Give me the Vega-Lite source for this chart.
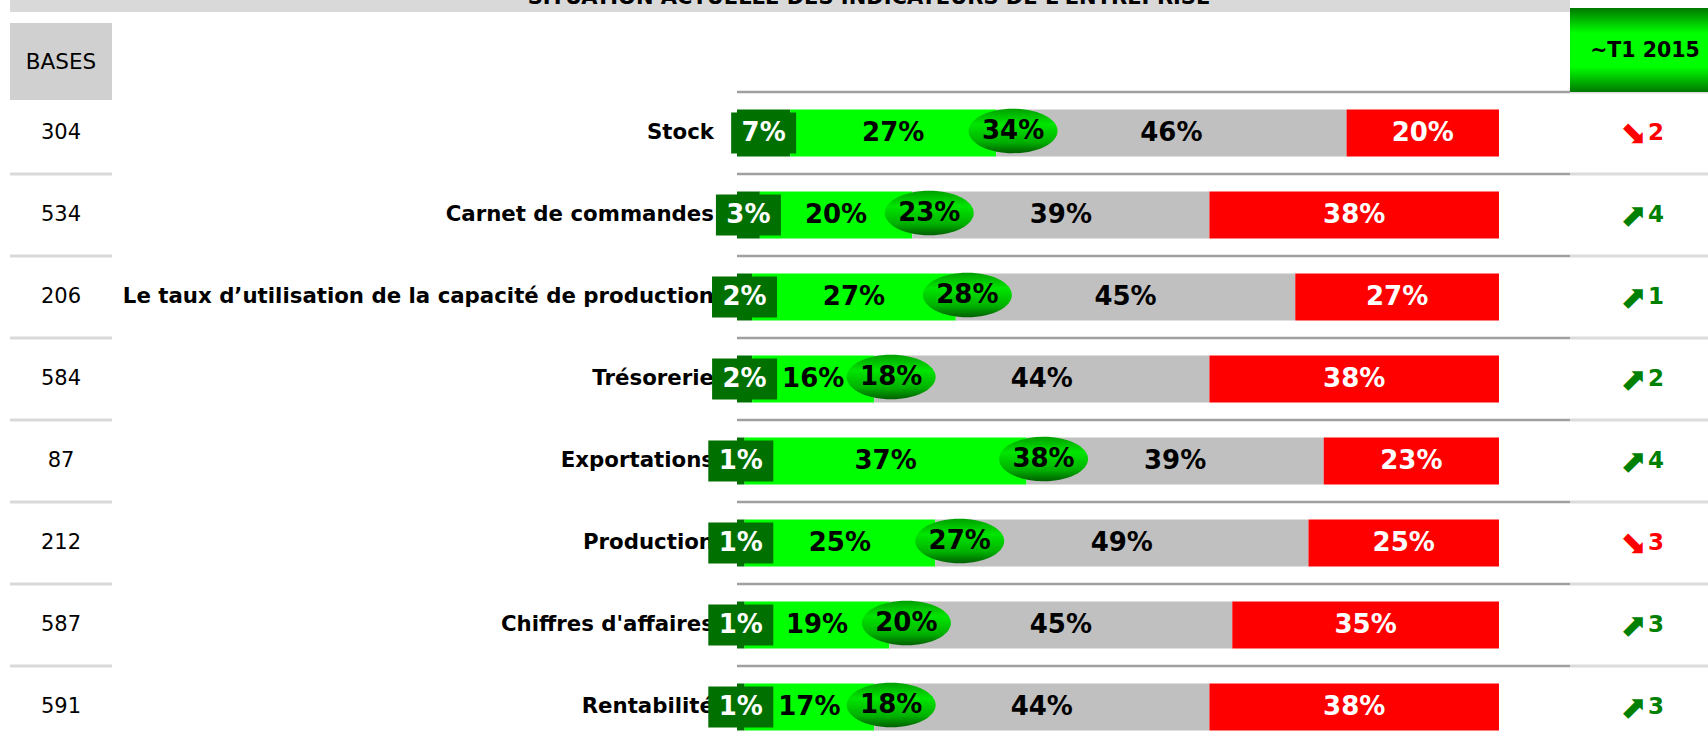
{
  "$schema": "https://vega.github.io/schema/vega-lite/v6.json",
  "padding": {"left": 8, "top": 0, "right": 0, "bottom": 0},
  "bounds": "flush",
  "spacing": 0,
  "config": {"view": {"stroke": null}, "font": "DejaVu Sans", "text": {"font": "DejaVu Sans"}},
  "datasets": {
    "entete": [{"titre": "SITUATION ACTUELLE DES INDICATEURS DE L'ENTREPRISE", "bases": "BASES", "periode": "~T1 2015"}],
    "lignes": [
      {"indicateur": "Stock", "base": 304, "pos": 0.34, "evol": 2, "sens": "baisse"},
      {"indicateur": "Carnet de commandes", "base": 534, "pos": 0.23, "evol": 4, "sens": "hausse"},
      {"indicateur": "Le taux d’utilisation de la capacité de production", "base": 206, "pos": 0.28, "evol": 1, "sens": "hausse"},
      {"indicateur": "Trésorerie", "base": 584, "pos": 0.18, "evol": 2, "sens": "hausse"},
      {"indicateur": "Exportations", "base": 87, "pos": 0.38, "evol": 4, "sens": "hausse"},
      {"indicateur": "Production", "base": 212, "pos": 0.27, "evol": 3, "sens": "baisse"},
      {"indicateur": "Chiffres d'affaires", "base": 587, "pos": 0.20, "evol": 3, "sens": "hausse"},
      {"indicateur": "Rentabilité", "base": 591, "pos": 0.18, "evol": 3, "sens": "hausse"}
    ],
    "segments": [
      {"indicateur": "Stock", "niveau": "Très bon", "k": 1, "part": 0.07},
      {"indicateur": "Stock", "niveau": "Bon", "k": 2, "part": 0.27},
      {"indicateur": "Stock", "niveau": "Moyen", "k": 3, "part": 0.46},
      {"indicateur": "Stock", "niveau": "Mauvais", "k": 4, "part": 0.20},
      {"indicateur": "Carnet de commandes", "niveau": "Très bon", "k": 1, "part": 0.03},
      {"indicateur": "Carnet de commandes", "niveau": "Bon", "k": 2, "part": 0.20},
      {"indicateur": "Carnet de commandes", "niveau": "Moyen", "k": 3, "part": 0.39},
      {"indicateur": "Carnet de commandes", "niveau": "Mauvais", "k": 4, "part": 0.38},
      {"indicateur": "Le taux d’utilisation de la capacité de production", "niveau": "Très bon", "k": 1, "part": 0.02},
      {"indicateur": "Le taux d’utilisation de la capacité de production", "niveau": "Bon", "k": 2, "part": 0.27},
      {"indicateur": "Le taux d’utilisation de la capacité de production", "niveau": "Moyen", "k": 3, "part": 0.45},
      {"indicateur": "Le taux d’utilisation de la capacité de production", "niveau": "Mauvais", "k": 4, "part": 0.27},
      {"indicateur": "Trésorerie", "niveau": "Très bon", "k": 1, "part": 0.02},
      {"indicateur": "Trésorerie", "niveau": "Bon", "k": 2, "part": 0.16},
      {"indicateur": "Trésorerie", "niveau": "Moyen", "k": 3, "part": 0.44},
      {"indicateur": "Trésorerie", "niveau": "Mauvais", "k": 4, "part": 0.38},
      {"indicateur": "Exportations", "niveau": "Très bon", "k": 1, "part": 0.01},
      {"indicateur": "Exportations", "niveau": "Bon", "k": 2, "part": 0.37},
      {"indicateur": "Exportations", "niveau": "Moyen", "k": 3, "part": 0.39},
      {"indicateur": "Exportations", "niveau": "Mauvais", "k": 4, "part": 0.23},
      {"indicateur": "Production", "niveau": "Très bon", "k": 1, "part": 0.01},
      {"indicateur": "Production", "niveau": "Bon", "k": 2, "part": 0.25},
      {"indicateur": "Production", "niveau": "Moyen", "k": 3, "part": 0.49},
      {"indicateur": "Production", "niveau": "Mauvais", "k": 4, "part": 0.25},
      {"indicateur": "Chiffres d'affaires", "niveau": "Très bon", "k": 1, "part": 0.01},
      {"indicateur": "Chiffres d'affaires", "niveau": "Bon", "k": 2, "part": 0.19},
      {"indicateur": "Chiffres d'affaires", "niveau": "Moyen", "k": 3, "part": 0.45},
      {"indicateur": "Chiffres d'affaires", "niveau": "Mauvais", "k": 4, "part": 0.35},
      {"indicateur": "Rentabilité", "niveau": "Très bon", "k": 1, "part": 0.01},
      {"indicateur": "Rentabilité", "niveau": "Bon", "k": 2, "part": 0.17},
      {"indicateur": "Rentabilité", "niveau": "Moyen", "k": 3, "part": 0.44},
      {"indicateur": "Rentabilité", "niveau": "Mauvais", "k": 4, "part": 0.38}
    ]
  },
  "hconcat": [
    {
      "width": 102,
      "height": 743,
      "layer": [
        {
          "data": {"name": "lignes"},
          "mark": {"type": "rule", "color": "#d9d9d9", "strokeWidth": 3},
          "encoding": {
            "y": {"field": "indicateur", "type": "nominal", "bandPosition": 0, "axis": null,
              "scale": {"domain": ["ENTETE", "Stock", "Carnet de commandes", "Le taux d’utilisation de la capacité de production", "Trésorerie", "Exportations", "Production", "Chiffres d'affaires", "Rentabilité"], "range": [10, 748], "paddingInner": 0, "paddingOuter": 0}}
          }
        },
        {
          "data": {"name": "entete"},
          "mark": {"type": "bar", "color": "#d9d9d9", "height": 12, "yOffset": -45},
          "encoding": {"y": {"datum": "ENTETE", "type": "nominal", "axis": null}}
        },
        {
          "data": {"name": "entete"},
          "mark": {"type": "bar", "color": "#d0d0d0", "height": 77, "yOffset": 10.5},
          "encoding": {"y": {"datum": "ENTETE", "type": "nominal", "axis": null}}
        },
        {
          "data": {"name": "entete"},
          "mark": {"type": "text", "fontSize": 21.5, "dy": 12, "color": "#000000"},
          "encoding": {"y": {"datum": "ENTETE", "type": "nominal", "axis": null}, "text": {"field": "bases"}}
        },
        {
          "data": {"name": "lignes"},
          "mark": {"type": "text", "fontSize": 21, "color": "#000000"},
          "encoding": {"y": {"field": "indicateur", "type": "nominal", "axis": null}, "text": {"field": "base"}}
        }
      ]
    },
    {
      "width": 1458,
      "height": 743,
      "layer": [
        {
          "data": {"name": "lignes"},
          "mark": {"type": "rule", "color": "#a0a0a0", "strokeWidth": 2.5},
          "encoding": {
            "x": {"datum": 0, "type": "quantitative", "axis": null, "scale": {"domain": [-0.8202, 1.0932], "nice": false, "zero": false}},
            "x2": {"datum": 1.0932},
            "y": {"field": "indicateur", "type": "nominal", "bandPosition": 0, "axis": null,
              "scale": {"domain": ["ENTETE", "Stock", "Carnet de commandes", "Le taux d’utilisation de la capacité de production", "Trésorerie", "Exportations", "Production", "Chiffres d'affaires", "Rentabilité"], "range": [10, 748], "paddingInner": 0, "paddingOuter": 0}}
          }
        },
        {
          "data": {"name": "entete"},
          "mark": {"type": "bar", "color": "#d9d9d9", "height": 12, "yOffset": -45},
          "encoding": {"y": {"datum": "ENTETE", "type": "nominal", "axis": null}}
        },
        {
          "data": {"name": "entete"},
          "mark": {"type": "text", "fontSize": 21, "fontWeight": "bold", "dx": 28, "dy": -6, "baseline": "alphabetic", "clip": true, "color": "#000000"},
          "encoding": {"y": {"datum": "ENTETE", "type": "nominal", "bandPosition": 0, "axis": null}, "text": {"field": "titre"}}
        },
        {
          "data": {"name": "lignes"},
          "mark": {"type": "text", "fontSize": 21.3, "fontWeight": "bold", "align": "right", "dx": -23, "color": "#000000"},
          "encoding": {
            "x": {"datum": 0, "type": "quantitative", "axis": null},
            "y": {"field": "indicateur", "type": "nominal", "axis": null},
            "text": {"field": "indicateur"}
          }
        },
        {
          "data": {"name": "segments"},
          "mark": {"type": "bar", "height": {"band": 0.573}},
          "encoding": {
            "x": {"field": "part", "type": "quantitative", "stack": "normalize", "axis": null},
            "y": {"field": "indicateur", "type": "nominal", "axis": null},
            "color": {"field": "niveau", "type": "nominal", "legend": null,
              "scale": {"domain": ["Très bon", "Bon", "Moyen", "Mauvais"], "range": ["#007000", "#00ff00", "#c0c0c0", "#ff0000"]}},
            "order": {"field": "k", "type": "quantitative"}
          }
        },
        {
          "data": {"name": "segments"},
          "mark": {"type": "point", "shape": "M-1,-0.63H1V0.63H-1Z", "size": 4225, "filled": true, "color": "#007000", "strokeWidth": 0},
          "encoding": {
            "x": {"field": "part", "type": "quantitative", "stack": "normalize", "bandPosition": 0.5, "axis": null},
            "y": {"field": "indicateur", "type": "nominal", "axis": null},
            "detail": {"field": "niveau"},
            "order": {"field": "k", "type": "quantitative"},
            "opacity": {"condition": {"test": "datum.k === 1", "value": 1}, "value": 0}
          }
        },
        {
          "data": {"name": "segments"},
          "mark": {"type": "text", "fontSize": 26, "fontWeight": "bold"},
          "encoding": {
            "x": {"field": "part", "type": "quantitative", "stack": "normalize", "bandPosition": 0.5, "axis": null},
            "y": {"field": "indicateur", "type": "nominal", "axis": null},
            "detail": {"field": "niveau"},
            "order": {"field": "k", "type": "quantitative"},
            "text": {"field": "part", "type": "quantitative", "format": ".0%"},
            "color": {"condition": {"test": "datum.k === 1 || datum.k === 4", "value": "#ffffff"}, "value": "#000000"}
          }
        },
        {
          "data": {"name": "lignes"},
          "mark": {"type": "point", "shape": "M-1,0A1,0.5,0,1,1,1,0A1,0.5,0,1,1,-1,0Z", "size": 7921, "filled": true, "strokeWidth": 0, "opacity": 1, "xOffset": 17, "yOffset": -2,
            "color": {"gradient": "linear", "x1": 0, "y1": 0, "x2": 0, "y2": 1,
              "stops": [{"offset": 0, "color": "#00a000"}, {"offset": 0.35, "color": "#00e600"}, {"offset": 0.75, "color": "#00b000"}, {"offset": 1, "color": "#006000"}]}},
          "encoding": {
            "x": {"field": "pos", "type": "quantitative", "axis": null},
            "y": {"field": "indicateur", "type": "nominal", "axis": null}
          }
        },
        {
          "data": {"name": "lignes"},
          "mark": {"type": "text", "fontSize": 26, "fontWeight": "bold", "dx": 17, "dy": -2, "color": "#000000"},
          "encoding": {
            "x": {"field": "pos", "type": "quantitative", "axis": null},
            "y": {"field": "indicateur", "type": "nominal", "axis": null},
            "text": {"field": "pos", "type": "quantitative", "format": ".0%"}
          }
        }
      ]
    },
    {
      "width": 140,
      "height": 743,
      "layer": [
        {
          "data": {"name": "lignes"},
          "mark": {"type": "rule", "color": "#dcdcdc", "strokeWidth": 3},
          "encoding": {
            "y": {"field": "indicateur", "type": "nominal", "bandPosition": 0, "axis": null,
              "scale": {"domain": ["ENTETE", "Stock", "Carnet de commandes", "Le taux d’utilisation de la capacité de production", "Trésorerie", "Exportations", "Production", "Chiffres d'affaires", "Rentabilité"], "range": [10, 748], "paddingInner": 0, "paddingOuter": 0}}
          }
        },
        {
          "data": {"name": "entete"},
          "mark": {"type": "bar", "height": 84, "yOffset": -1,
            "color": {"gradient": "linear", "x1": 0, "y1": 0, "x2": 0, "y2": 1,
              "stops": [{"offset": 0, "color": "#007800"}, {"offset": 0.3, "color": "#00ff00"}, {"offset": 0.7, "color": "#00ff00"}, {"offset": 1, "color": "#007800"}]}},
          "encoding": {"y": {"datum": "ENTETE", "type": "nominal", "axis": null}}
        },
        {
          "data": {"name": "entete"},
          "mark": {"type": "text", "fontSize": 20.5, "fontWeight": "bold", "dx": 5, "color": "#000000"},
          "encoding": {"y": {"datum": "ENTETE", "type": "nominal", "axis": null}, "text": {"field": "periode"}}
        },
        {
          "data": {"name": "lignes"},
          "mark": {"type": "text", "fontSize": 32, "fontWeight": "normal", "align": "right", "dx": 7, "dy": 1},
          "encoding": {
            "y": {"field": "indicateur", "type": "nominal", "axis": null},
            "text": {"condition": {"test": "datum.sens === 'baisse'", "value": "⬊"}, "value": "⬈"},
            "color": {"condition": {"test": "datum.sens === 'baisse'", "value": "#ff0000"}, "value": "#008000"}
          }
        },
        {
          "data": {"name": "lignes"},
          "mark": {"type": "text", "fontSize": 23, "fontWeight": "bold", "align": "left", "dx": 8},
          "encoding": {
            "y": {"field": "indicateur", "type": "nominal", "axis": null},
            "text": {"field": "evol"},
            "color": {"condition": {"test": "datum.sens === 'baisse'", "value": "#ff0000"}, "value": "#008000"}
          }
        }
      ]
    }
  ]
}
